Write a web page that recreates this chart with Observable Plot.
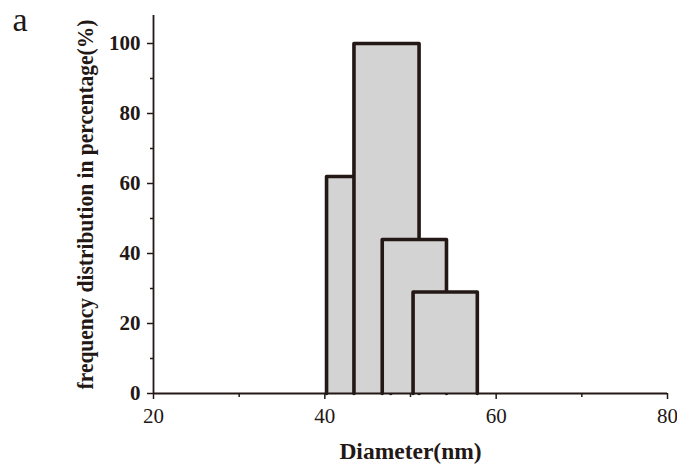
<!DOCTYPE html>
<html>
<head>
<meta charset="utf-8">
<script src="https://cdn.jsdelivr.net/npm/d3@7"></script>
<script src="https://cdn.jsdelivr.net/npm/@observablehq/plot@0.6"></script>
<style>
  html, body { margin: 0; padding: 0; background: #fff; }
  #chart { width: 677px; height: 465px; }
  g[aria-label="y-axis tick label"] text { font-weight: bold; }
</style>
</head>
<body>
<div id="chart"></div>
<script>
// Particle size histogram: each bin is an outlined, overlapping bar
const binStart = [40.2, 43.4, 46.7, 50.3];   // nm
const binEnd   = [47.7, 51.0, 54.2, 57.8];   // nm
const frequency = [62, 100, 44, 29];         // %

const xTicks = [20, 40, 60, 80];
const xMinorTicks = [30, 50, 70];
const yTicks = [0, 20, 40, 60, 80, 100];
const yMinorTicks = [10, 30, 50, 70, 90];

const yTitle = "frequency distribution in percentage(%)";
const xTitle = "Diameter(nm)";

const ink = "#231815";
const fill = "#d3d3d3";

const bins = binStart.map((x1, i) => ({x1, x2: binEnd[i], value: frequency[i]}));

// Each bar is drawn as a filled rect plus an open outline (no bottom edge),
// in order, so later bars sit on top of earlier ones.
const barMarks = bins.flatMap(b => [
  Plot.rect([b], {x1: "x1", x2: "x2", y1: 0, y2: "value", fill: fill}),
  Plot.line(
    [{x: b.x1, y: 0}, {x: b.x1, y: b.value}, {x: b.x2, y: b.value}, {x: b.x2, y: 0}],
    {x: "x", y: "y", stroke: ink, strokeWidth: 3.6, strokeLinejoin: "round"}
  )
]);

const chart = Plot.plot({
  width: 677,
  height: 465,
  marginLeft: 153,
  marginRight: 10,
  marginTop: 15,
  marginBottom: 72,
  style: {fontFamily: "Liberation Serif", background: "#fff", color: ink},
  x: {domain: [20, 80]},
  y: {domain: [0, 108]},
  marks: [
    ...barMarks,
    // axis lines
    Plot.ruleX([20], {y1: 0, y2: 108, stroke: ink, strokeWidth: 1.8}),
    Plot.ruleY([0], {x1: 20, x2: 80, stroke: ink, strokeWidth: 1.8}),
    // y axis
    Plot.axisY(yTicks, {
      tickSize: 6, tickPadding: 7, fontSize: 21, fontWeight: "bold",
      stroke: ink, strokeWidth: 1.5, fill: ink, label: null
    }),
    Plot.axisY(yMinorTicks, {
      tickSize: 3, tickFormat: () => "", stroke: ink, strokeWidth: 1.5, label: null
    }),
    // x axis
    Plot.axisX(xTicks, {
      tickSize: 6, tickPadding: 9, fontSize: 21,
      stroke: ink, strokeWidth: 1.5, fill: ink, label: null
    }),
    Plot.axisX(xMinorTicks, {
      tickSize: 4, tickFormat: () => "", stroke: ink, strokeWidth: 1.5, label: null
    }),
    // axis titles
    Plot.text([yTitle], {
      frameAnchor: "left", rotate: -90, dx: -68,
      fontSize: 21.5, fontWeight: "bold", fill: ink,
      textAnchor: "middle", lineAnchor: "middle"
    }),
    Plot.text([xTitle], {
      frameAnchor: "bottom", dy: 58,
      fontSize: 23.5, fontWeight: "bold", fill: ink,
      textAnchor: "middle", lineAnchor: "middle"
    }),
    // panel letter
    Plot.text(["a"], {
      frameAnchor: "top-left", dx: -141, dy: 5,
      fontSize: 34, fill: ink, textAnchor: "start", lineAnchor: "middle"
    })
  ]
});

// The y title is set in a heavier, wider cut across its run
d3.select(chart).selectAll("text")
  .filter(function () { return this.textContent === yTitle; })
  .attr("transform", function () {
    return (this.getAttribute("transform") || "") + " scale(1,1.12)";
  });

document.getElementById("chart").appendChild(chart);
</script>
</body>
</html>
